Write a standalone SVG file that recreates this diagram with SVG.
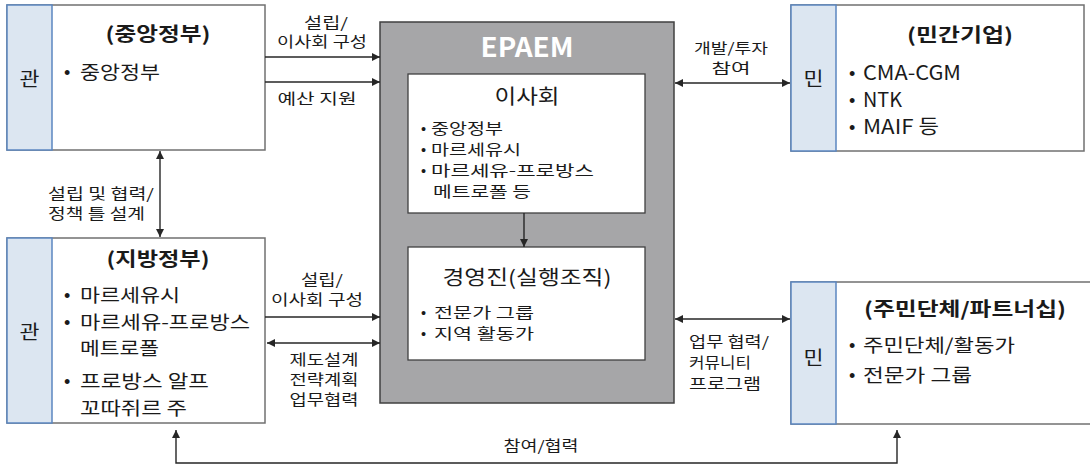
<svg xmlns="http://www.w3.org/2000/svg" width="1090" height="466" viewBox="0 0 1090 466">
<defs>
<style>
text{font-family:"Noto Sans CJK KR","Noto Sans",sans-serif;fill:#1a1a1a}
text.bul{font-family:"Liberation Sans",Arial,sans-serif}
.box{fill:#fff;stroke:#707070;stroke-width:1.5}
.strip{fill:#dce6f1;stroke:#5b86c0;stroke-width:1.5}
.title{font-size:19px;font-weight:bold;text-anchor:middle}
.side{font-size:19px;text-anchor:middle}
.item{font-size:18px}
.lat{font-size:20px}
.inner{font-size:14.5px}
.ititle{font-size:20px;text-anchor:middle}
.lbl{font-size:14.5px;text-anchor:middle}
.lbll{font-size:14.5px}
.con{fill:none;stroke:#262626;stroke-width:1.4}
</style>
<marker id="ah" viewBox="0 0 10 10" refX="10" refY="5" markerWidth="10" markerHeight="8" markerUnits="userSpaceOnUse" orient="auto-start-reverse">
<path d="M0,0 L10,5 L0,10 Z" fill="#262626"/>
</marker>
</defs>

<g id="central-gov">
<rect class="box" x="7" y="5" width="258" height="145"/>
<rect class="strip" x="7" y="5" width="45" height="145"/>
<text class="side" x="29.5" y="86" textLength="20" lengthAdjust="spacingAndGlyphs">관</text>
<text class="title" x="158" y="41" textLength="105" lengthAdjust="spacingAndGlyphs">(중앙정부)</text>
<text class="item bul" x="64" y="79">•</text>
<text class="item" x="80" y="79" textLength="80" lengthAdjust="spacingAndGlyphs">중앙정부</text>
</g>

<g id="local-gov">
<rect class="box" x="7" y="238" width="258" height="185"/>
<rect class="strip" x="7" y="238" width="45" height="185"/>
<text class="side" x="29.5" y="339" textLength="20" lengthAdjust="spacingAndGlyphs">관</text>
<text class="title" x="158" y="266" textLength="103" lengthAdjust="spacingAndGlyphs">(지방정부)</text>
<text class="item bul" x="64" y="302">•</text>
<text class="item" x="80" y="302" textLength="100" lengthAdjust="spacingAndGlyphs">마르세유시</text>
<text class="item bul" x="64" y="329">•</text>
<text class="item" x="80" y="329" textLength="170" lengthAdjust="spacingAndGlyphs">마르세유-프로방스</text>
<text class="item" x="80" y="355" textLength="79" lengthAdjust="spacingAndGlyphs">메트로폴</text>
<text class="item bul" x="64" y="388">•</text>
<text class="item" x="80" y="388" textLength="129" lengthAdjust="spacingAndGlyphs">프로방스 알프</text>
<text class="item" x="80" y="415" textLength="107" lengthAdjust="spacingAndGlyphs">꼬따쥐르 주</text>
</g>

<g id="epaem">
<rect x="380" y="22" width="294" height="381" fill="#a6a6a8" stroke="#404040" stroke-width="1.5"/>
<text x="527" y="57" font-size="27" font-weight="bold" text-anchor="middle" style="fill:#fff" textLength="93" lengthAdjust="spacingAndGlyphs">EPAEM</text>
</g>

<g id="board">
<rect x="408" y="74" width="237" height="139" fill="#fff" stroke="#404040" stroke-width="1.3"/>
<text class="ititle" x="527" y="104" textLength="65" lengthAdjust="spacingAndGlyphs">이사회</text>
<text class="inner bul" x="421" y="134">•</text>
<text class="inner bul" x="421" y="155">•</text>
<text class="inner bul" x="421" y="176">•</text>
<text class="inner" x="431" y="134" textLength="72" lengthAdjust="spacingAndGlyphs">중앙정부</text>
<text class="inner" x="431" y="155" textLength="90" lengthAdjust="spacingAndGlyphs">마르세유시</text>
<text class="inner" x="431" y="176" textLength="163" lengthAdjust="spacingAndGlyphs">마르세유-프로방스</text>
<text class="inner" x="433" y="197" textLength="98" lengthAdjust="spacingAndGlyphs">메트로폴 등</text>
</g>

<g id="management">
<rect x="408" y="247" width="237" height="113" fill="#fff" stroke="#404040" stroke-width="1.3"/>
<text class="ititle" x="527" y="285" textLength="169" lengthAdjust="spacingAndGlyphs">경영진(실행조직)</text>
<text class="inner bul" x="421" y="318">•</text>
<text class="inner bul" x="421" y="339">•</text>
<text class="inner" x="434" y="318" textLength="100" lengthAdjust="spacingAndGlyphs">전문가 그룹</text>
<text class="inner" x="434" y="339" textLength="100" lengthAdjust="spacingAndGlyphs">지역 활동가</text>
</g>

<g id="private-corp">
<rect class="box" x="791" y="5" width="293" height="146"/>
<rect class="strip" x="791" y="5" width="45" height="146"/>
<text class="side" x="813.5" y="86" textLength="20" lengthAdjust="spacingAndGlyphs">민</text>
<text class="title" x="960" y="42" textLength="106" lengthAdjust="spacingAndGlyphs">(민간기업)</text>
<text class="item bul" x="849" y="80">•</text>
<text class="lat" x="863" y="80" textLength="98" lengthAdjust="spacingAndGlyphs">CMA-CGM</text>
<text class="item bul" x="849" y="107">•</text>
<text class="lat" x="863" y="107" textLength="39" lengthAdjust="spacingAndGlyphs">NTK</text>
<text class="item bul" x="849" y="134">•</text>
<text class="lat" x="863" y="134" textLength="76" lengthAdjust="spacingAndGlyphs">MAIF 등</text>
</g>

<g id="residents">
<rect class="box" x="791" y="282" width="310" height="142"/>
<rect class="strip" x="791" y="282" width="45" height="142"/>
<text class="side" x="813.5" y="365" textLength="20" lengthAdjust="spacingAndGlyphs">민</text>
<text class="title" x="965" y="316" textLength="202" lengthAdjust="spacingAndGlyphs">(주민단체/파트너십)</text>
<text class="item bul" x="849" y="352">•</text>
<text class="item" x="863" y="352" textLength="152" lengthAdjust="spacingAndGlyphs">주민단체/활동가</text>
<text class="item bul" x="849" y="382">•</text>
<text class="item" x="863" y="382" textLength="109" lengthAdjust="spacingAndGlyphs">전문가 그룹</text>
</g>

<g id="connectors">
<line class="con" x1="265" y1="57" x2="380" y2="57" stroke-width="2.2" marker-end="url(#ah)"/>
<line class="con" x1="265" y1="82" x2="380" y2="82" marker-end="url(#ah)"/>
<line class="con" x1="160" y1="151" x2="160" y2="237" marker-start="url(#ah)" marker-end="url(#ah)"/>
<line class="con" x1="265" y1="317" x2="380" y2="317" stroke-width="2.2" marker-end="url(#ah)"/>
<line class="con" x1="267" y1="343" x2="380" y2="343" marker-start="url(#ah)" marker-end="url(#ah)"/>
<line class="con" x1="524" y1="213" x2="524" y2="247" marker-end="url(#ah)"/>
<line class="con" x1="675" y1="83" x2="790" y2="83" marker-start="url(#ah)" marker-end="url(#ah)"/>
<line class="con" x1="675" y1="319" x2="790" y2="319" marker-start="url(#ah)" marker-end="url(#ah)"/>
<path class="con" d="M176,430 V463 H897 V430" marker-start="url(#ah)" marker-end="url(#ah)"/>
<text class="lbl" x="326" y="28" textLength="44" lengthAdjust="spacingAndGlyphs">설립/</text>
<text class="lbl" x="322" y="47" textLength="90" lengthAdjust="spacingAndGlyphs">이사회 구성</text>
<text class="lbl" x="317" y="104" textLength="79" lengthAdjust="spacingAndGlyphs">예산 지원</text>
<text class="lbll" x="48" y="199" textLength="106" lengthAdjust="spacingAndGlyphs">설립 및 협력/</text>
<text class="lbll" x="48" y="219" textLength="97" lengthAdjust="spacingAndGlyphs">정책 틀 설계</text>
<text class="lbl" x="322" y="285" textLength="42" lengthAdjust="spacingAndGlyphs">설립/</text>
<text class="lbl" x="317" y="305" textLength="92" lengthAdjust="spacingAndGlyphs">이사회 구성</text>
<text class="lbl" x="324" y="365" textLength="69" lengthAdjust="spacingAndGlyphs">제도설계</text>
<text class="lbl" x="324" y="385" textLength="69" lengthAdjust="spacingAndGlyphs">전략계획</text>
<text class="lbl" x="324" y="405" textLength="69" lengthAdjust="spacingAndGlyphs">업무협력</text>
<text class="lbl" x="731" y="53" textLength="74" lengthAdjust="spacingAndGlyphs" style="font-size:14px">개발/투자</text>
<text class="lbl" x="731" y="73" textLength="39" lengthAdjust="spacingAndGlyphs" style="font-size:14px">참여</text>
<text class="lbll" x="689" y="347" textLength="80" lengthAdjust="spacingAndGlyphs">업무 협력/</text>
<text class="lbll" x="689" y="368" textLength="62" lengthAdjust="spacingAndGlyphs">커뮤니티</text>
<text class="lbll" x="689" y="389" textLength="72" lengthAdjust="spacingAndGlyphs">프로그램</text>
<text class="lbl" x="541" y="451" textLength="75" lengthAdjust="spacingAndGlyphs">참여/협력</text>
</g>
</svg>
